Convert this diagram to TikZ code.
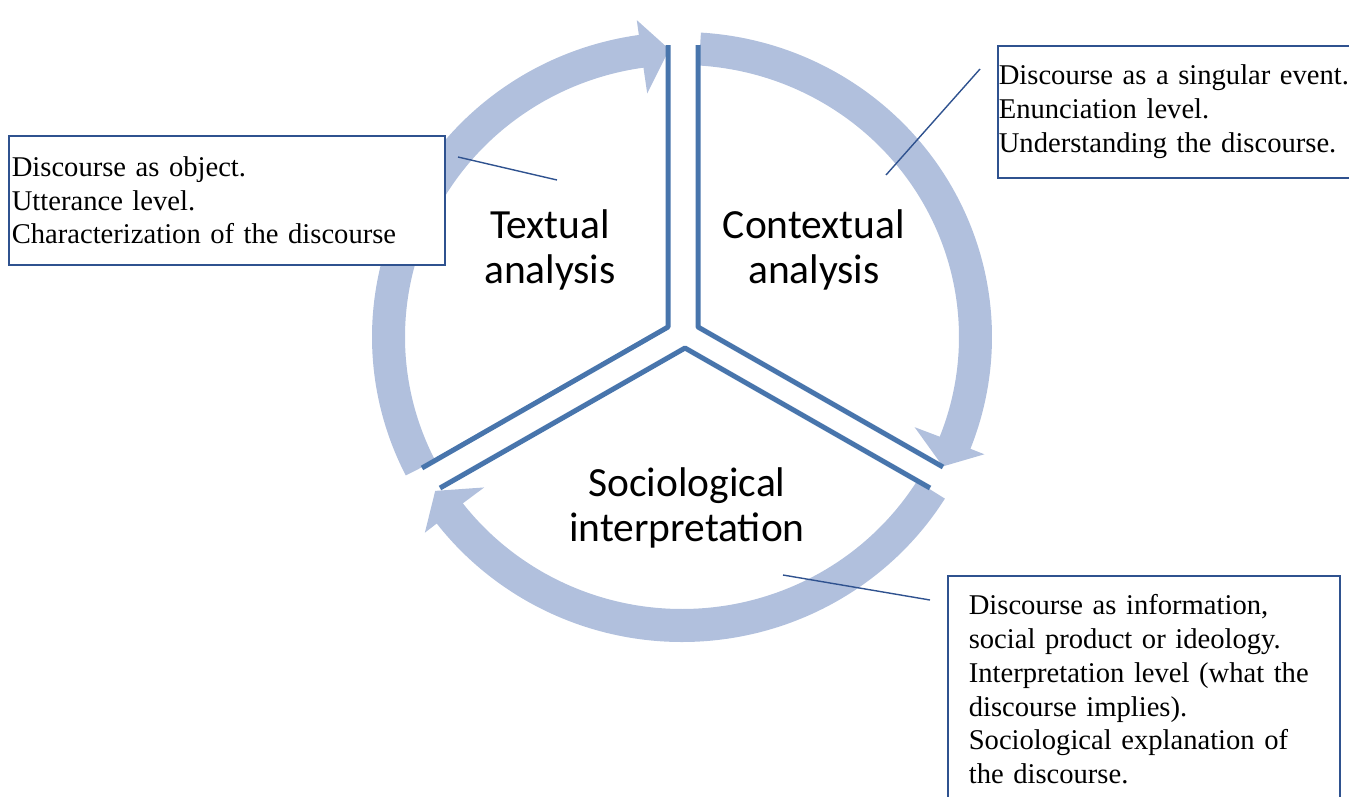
\documentclass[tikz,border=0pt]{standalone}
\usepackage{fontspec}
\setmainfont{Liberation Serif}[WordSpace=0.7]
\newfontfamily\stagefont{Carlito}
\usetikzlibrary{positioning}
\definecolor{ringblue}{RGB}{177,192,221}
\definecolor{edgeblue}{RGB}{72,117,172}
\definecolor{boxblue}{RGB}{47,82,143}
\tikzset{ringarrow/.style={ % Light arrows running round the cycle
           fill=ringblue},
         divider/.style={     % Edges of the three pie segments
           draw=edgeblue,
           line width=5pt,
           line join=round},
         stagelabel/.style={  % Names of the three stages
           font=\stagefont\fontsize{41.5}{45.5}\selectfont,
           align=center},
         infobox/.style={     % Boxes with the notes
           draw=boxblue,
           line width=1.6pt,
           fill=white,
           anchor=north west,
           align=left,
           font=\fontsize{28.6}{33.7}\selectfont},
         pointer/.style={     % Thin lines from the notes into the cycle
           draw=boxblue,
           line width=1.4pt}}

\begin{document}
\begin{tikzpicture}[x=1pt, y=1pt]
\useasboundingbox (0,0) rectangle (1349,-796);
\clip (0,0) rectangle (1349,-796);

% ring arrows: start angle / head base / tip
\begin{scope}[shift={(682,-337)}]
\foreach \s/\b/\t in {207/98/92.5, 86.5/-21.5/-26.7, -32/-142.3/-147.7}
  \fill[ringarrow] (\s:310pt and 305pt)
    arc[start angle=\s, end angle=\b, x radius=310pt, y radius=305pt]
    -- (\b:325pt and 320pt) -- (\t:292pt and 288pt) -- (\b:250pt and 246pt)
    -- (\b:277pt and 272pt)
    arc[start angle=\b, end angle=\s, x radius=277pt, y radius=272pt] -- cycle;
\end{scope}

% segment edges
\draw[divider] (668,-45) -- (668,-327) -- (422,-468);
\draw[divider] (698,-45) -- (698,-327) -- (943,-467);
\draw[divider] (440,-488) -- (685,-348) -- (930,-488);

\node[stagelabel] (textual) at (550,-250) {Textual\\analysis};
\node[stagelabel] (contextual) at (814,-250) {Contextual\\analysis};
\node[stagelabel] (sociological) at (687,-508) {Sociological\\interpretation};

\node[infobox, text width=430pt, inner xsep=3pt, minimum height=129pt] (object) at (8,-135)
  {Discourse as object.\\Utterance level.\\Characterization of the discourse};
\node[infobox, text width=362pt, inner xsep=1pt, minimum height=132pt] (event) at (997,-45)
  {Discourse as a singular event.\\Enunciation level.\\Understanding the discourse.};
\node[infobox, text width=350pt, inner xsep=21pt, inner ysep=19pt] (ideology) at (947,-575)
  {Discourse as information,\\social product or ideology.\\Interpretation level (what the\\discourse implies).\\Sociological explanation of\\the discourse.};

\coordinate (objectfoot) at (458,-157);
\coordinate (objecttip) at (557,-180);
\coordinate (eventfoot) at (980,-69);
\coordinate (eventtip) at (886,-175);
\coordinate (ideologyfoot) at (930,-600);
\coordinate (ideologytip) at (783,-575);

\draw[pointer] (objectfoot) -- (objecttip);
\draw[pointer] (eventfoot) -- (eventtip);
\draw[pointer] (ideologyfoot) -- (ideologytip);

\end{tikzpicture}
\end{document}
